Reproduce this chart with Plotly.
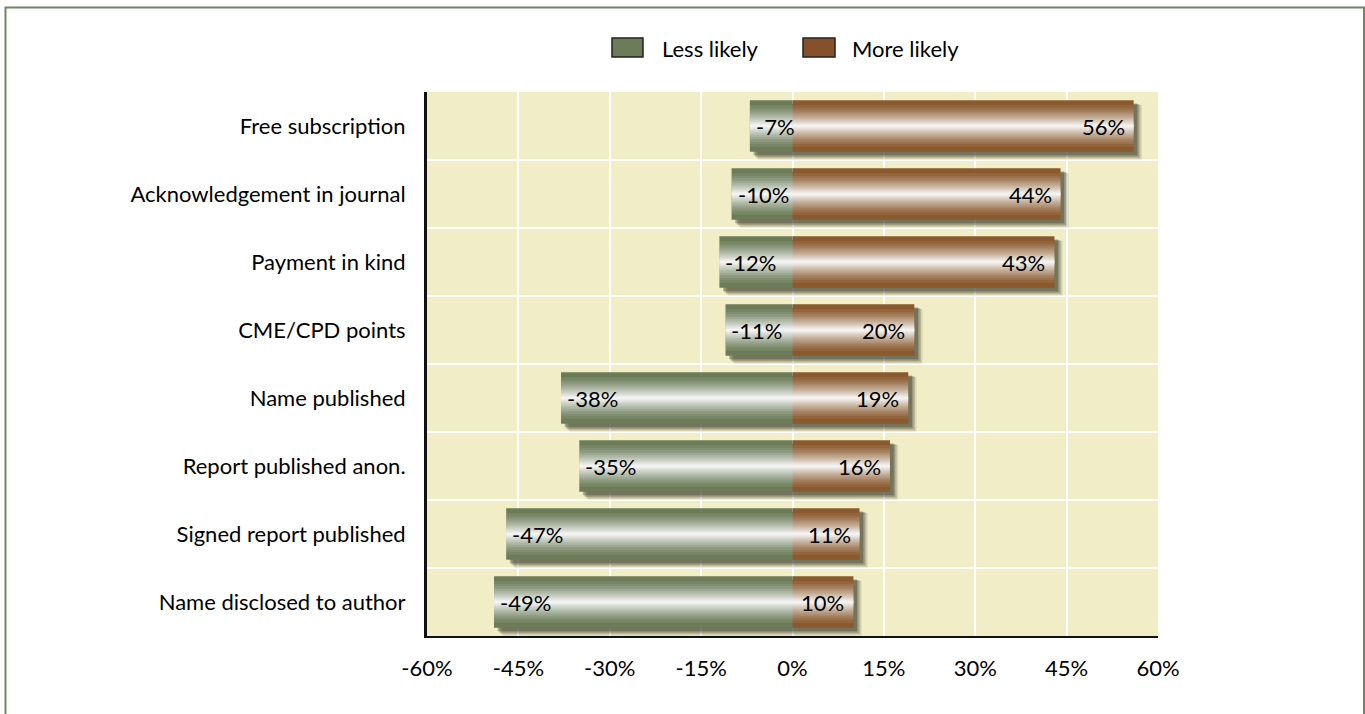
import plotly.graph_objects as go

categories = ["Free subscription", "Acknowledgement in journal", "Payment in kind",
              "CME/CPD points", "Name published", "Report published anon.",
              "Signed report published", "Name disclosed to author"]
less_likely = [-7, -10, -12, -11, -38, -35, -47, -49]
more_likely = [56, 44, 43, 20, 19, 16, 11, 10]
tick_vals = [-60, -45, -30, -15, 0, 15, 30, 45, 60]
tick_text = [f"{v}%" for v in tick_vals]

GREEN = "#6c7c58"
BROWN = "#8a5a2e"
FONT = "Lato"
FS = 22
W, H = 1365, 714
ML, MR, MT, MB = 427, 207, 92, 78
PW, PH = W - ML - MR, H - MT - MB
BW = 0.76

def px_x(px):
    return (px - ML) / PW

def px_y(py):
    return (H - MB - py) / PH

fig = go.Figure()

spans = [p - n for n, p in zip(less_likely, more_likely)]

# drop shadows (soft, offset right/down)
for shift, dy, extra, col in [(1.35, 0.095, 0.045, "rgba(50,50,35,0.12)"),
                              (1.1, 0.08, 0.03, "rgba(50,50,35,0.18)"),
                              (0.85, 0.065, 0.015, "rgba(50,50,35,0.26)"),
                              (0.6, 0.05, 0.0, "rgba(50,50,35,0.34)")]:
    fig.add_trace(go.Bar(
        y=categories, x=spans, base=[n + shift for n in less_likely], orientation="h",
        width=BW + extra, offset=-(BW + extra) / 2 + dy,
        marker=dict(color=col, line=dict(width=0)), showlegend=False, hoverinfo="skip"))

fig.add_trace(go.Bar(y=categories, x=less_likely, orientation="h", name="Less likely",
                     width=BW, marker=dict(color=GREEN, line=dict(width=0)), showlegend=False))
fig.add_trace(go.Bar(y=categories, x=more_likely, orientation="h", name="More likely",
                     width=BW, marker=dict(color=BROWN, line=dict(width=0)), showlegend=False))

# cylinder highlight: stacked translucent white layers
n_layers = 44
alpha = 1 - 0.03 ** (1 / n_layers)
for k in range(1, n_layers + 1):
    whiteness = 1 - (1 - alpha) ** k
    f = 1 - whiteness ** (1 / 1.6)
    wk = max(BW * f, 0.004)
    fig.add_trace(go.Bar(
        y=categories, x=spans, base=less_likely, orientation="h", width=wk,
        marker=dict(color=f"rgba(255,255,255,{alpha:.4f})", line=dict(width=0)),
        showlegend=False, hoverinfo="skip"))

annotations = []
for c, n, p in zip(categories, less_likely, more_likely):
    annotations.append(dict(x=n, y=c, xref="x", yref="y", text=f"{n}%", showarrow=False,
                            xanchor="left", xshift=4, font=dict(size=FS, color="black", family=FONT)))
    annotations.append(dict(x=p, y=c, xref="x", yref="y", text=f"{p}%", showarrow=False,
                            xanchor="right", xshift=-7, font=dict(size=FS, color="black", family=FONT)))

# legend (drawn manually to match the wide swatches)
legend_items = [("Less likely", GREEN, 612, 643, 660), ("More likely", "#85502a", 803, 835, 850)]
shapes = []
for label, col, x0, x1, tx in legend_items:
    shapes.append(dict(type="rect", xref="paper", yref="paper", x0=px_x(x0), x1=px_x(x1),
                       y0=px_y(57), y1=px_y(38), fillcolor=col, line=dict(color="#222", width=1.5)))
    annotations.append(dict(x=px_x(tx), y=px_y(48), xref="paper", yref="paper", text=label,
                            showarrow=False, xanchor="left", yanchor="middle",
                            font=dict(size=FS, color="black", family=FONT)))

# category separators
for i in range(len(categories) - 1):
    shapes.append(dict(type="line", xref="paper", yref="y", x0=0, x1=1, y0=i + 0.5, y1=i + 0.5,
                       line=dict(color="white", width=2), layer="below"))

# outer border
shapes.append(dict(type="rect", xref="paper", yref="paper", x0=px_x(5.5), x1=px_x(1364),
                   y0=px_y(730), y1=px_y(7.5), line=dict(color="#72875c", width=2),
                   fillcolor="rgba(0,0,0,0)", layer="below"))

fig.update_layout(
    width=W, height=H, barmode="overlay",
    margin=dict(l=ML, r=MR, t=MT, b=MB, autoexpand=False),
    paper_bgcolor="white", plot_bgcolor="#f1edc6",
    font=dict(family=FONT, size=FS, color="black"),
    showlegend=False, shapes=shapes, annotations=annotations,
    xaxis=dict(range=[-60, 60], tickvals=tick_vals, ticktext=tick_text, showgrid=True,
               gridcolor="white", gridwidth=2, zeroline=False, showline=True,
               linecolor="#111", linewidth=2, ticks="", ticklabelstandoff=12,
               tickfont=dict(size=FS, family=FONT), fixedrange=True),
    yaxis=dict(type="category", categoryorder="array", categoryarray=categories,
               autorange="reversed", showgrid=False, zeroline=False, showline=True,
               linecolor="#111", linewidth=3, ticks="", ticklabelstandoff=14,
               tickfont=dict(size=FS, family=FONT), fixedrange=True),
)

fig.write_html("out.html", post_script="document.body.style.margin='0';",
               config={"displayModeBar": False})
